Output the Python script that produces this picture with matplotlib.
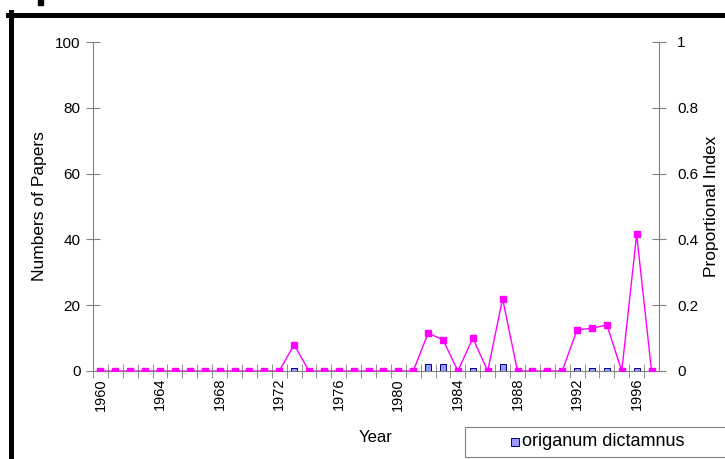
import matplotlib
matplotlib.use("Agg")
import matplotlib.pyplot as plt
from matplotlib.lines import Line2D
from matplotlib.patches import Rectangle

plt.rcParams['font.family'] = ['Liberation Sans', 'DejaVu Sans']

years = list(range(1960, 1998))
papers = [0, 0, 0, 0, 0, 0, 0, 0, 0, 0,
          0, 0, 0, 1, 0, 0, 0, 0, 0, 0,
          0, 0, 2, 2, 0, 1, 0, 2, 0, 0,
          0, 0, 1, 1, 1, 0, 1, 0]
index = [0, 0, 0, 0, 0, 0, 0, 0, 0, 0,
         0, 0, 0, 0.08, 0, 0, 0, 0, 0, 0,
         0, 0, 0.115, 0.095, 0, 0.10, 0, 0.22, 0, 0,
         0, 0, 0.125, 0.13, 0.14, 0, 0.415, 0]
tick_years = [1960, 1964, 1968, 1972, 1976, 1980, 1984, 1988, 1992, 1996]
series_name = "origanum dictamnus"

W, H = 725, 459
fig = plt.figure(figsize=(W / 100, H / 100), dpi=100)
ax = fig.add_axes([93 / W, 1 - 371 / H, (659 - 93) / W, (371 - 42) / H])
ax2 = ax.twinx()

axis_col = '#808080'
bar_fill, bar_edge = '#9999FF', '#000080'
ax.bar(years, papers, width=0.4, color=bar_fill, edgecolor=bar_edge, linewidth=0.7, zorder=3)
ax2.plot(years, index, color='#FF00FF', linewidth=1, marker='s', markersize=4, zorder=4)

ax.set_xlim(1959.5, 1997.5)
ax.set_ylim(0, 100)
ax2.set_ylim(0, 1)
ax.set_yticks([0, 20, 40, 60, 80, 100])
ax2.set_yticks([0, 0.2, 0.4, 0.6, 0.8, 1])
ax2.set_yticklabels(['0', '0.2', '0.4', '0.6', '0.8', '1'])

ax.set_xticks(tick_years)
ax.set_xticklabels([str(y) for y in tick_years], rotation=90)
ax.set_xticks([y + 0.5 for y in years[:-1]] + [1959.5], minor=True)
ax.tick_params(axis='x', which='major', length=0, labelsize=10.5, pad=5)
ax.tick_params(axis='x', which='minor', length=10, direction='inout', color=axis_col)
ax.tick_params(axis='y', length=10, direction='inout', color=axis_col, labelsize=11, pad=4)
ax2.tick_params(axis='y', length=10, direction='inout', color=axis_col, labelsize=11, pad=8)

for a in (ax, ax2):
    a.spines['top'].set_visible(False)
    for s in ('left', 'right', 'bottom'):
        a.spines[s].set_color(axis_col)
ax.spines['right'].set_visible(False)
ax2.spines['left'].set_visible(False)
ax2.spines['bottom'].set_visible(False)

ax.set_xlabel("Year", fontsize=12, labelpad=14)
ax.set_ylabel("Numbers of Papers", fontsize=12.5, labelpad=6)
ax2.set_ylabel("Proportional Index", fontsize=12.5, labelpad=4)

# legend box at the bottom right, cut by the picture edge
fig.add_artist(Rectangle((465 / W, 1 - 457 / H), 270 / W, 30 / H, transform=fig.transFigure,
                         facecolor='white', edgecolor=axis_col, linewidth=0.8))
fig.add_artist(Rectangle((511 / W, 1 - 446 / H), 8 / W, 8 / H, transform=fig.transFigure,
                         facecolor=bar_fill, edgecolor=bar_edge, linewidth=0.7))
fig.text(522 / W, 1 - 442 / H, series_name, fontsize=13, va='center', ha='left')

# thick black frame
fig.add_artist(Line2D([8 / W, 1], [1 - 14.8 / H, 1 - 14.8 / H], color='black', linewidth=3.6))
fig.add_artist(Line2D([10.5 / W, 10.5 / W], [0, 1 - 12.3 / H], color='black', linewidth=3.6))
fig.add_artist(Rectangle((38 / W, 1 - 5 / H), 5 / W, 5 / H, color='black', transform=fig.transFigure))

plt.savefig("out.png", dpi=100)
plt.close()
